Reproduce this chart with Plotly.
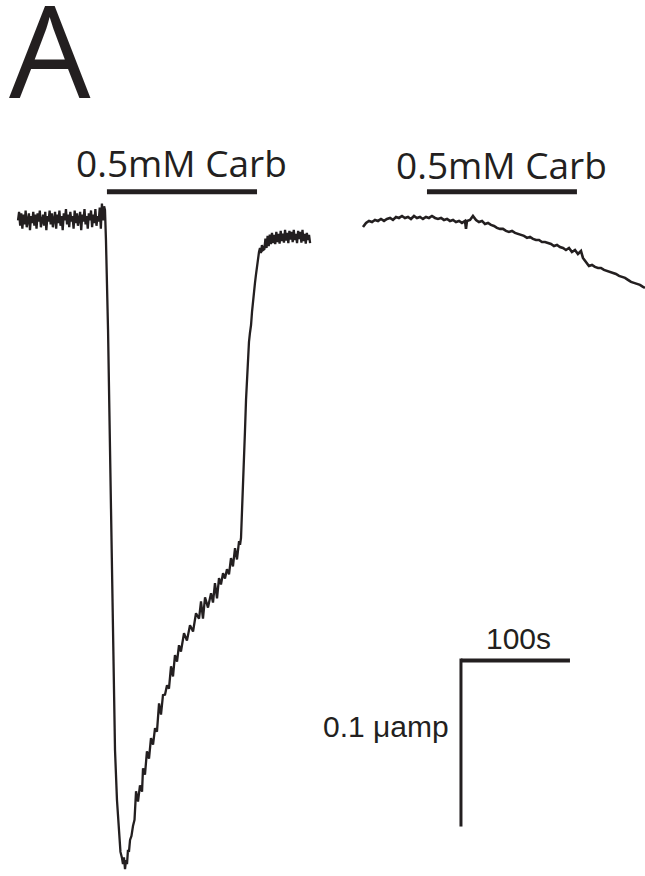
import plotly.graph_objects as go

# ---------------- data (time in s, current in nA) ----------------
# Left recording: baseline, carbachol-evoked inward current, recovery
left_t = [0, 1, 2, 3, 4, 5, 6, 7, 8, 9,
          10, 11, 12, 13, 14, 15, 16, 17, 18, 19,
          20, 21, 22, 23, 24, 25, 26, 27, 28, 29,
          30, 31, 32, 33, 34, 35, 36, 37, 38, 39,
          40, 41, 42, 43, 44, 45, 46, 47, 48, 49,
          50, 51, 52, 53, 54, 55, 56, 57, 58, 59,
          60, 61, 62, 63, 64, 65, 66, 67, 68, 69,
          70, 71, 72, 73, 74, 75, 76, 77, 78, 79,
          79.8, 80.7, 82.6, 84.4, 86.2, 87.6, 89.0, 90.8, 92.7, 94.0,
          95.4, 96.3, 97.2, 98.2, 99.1, 100.0, 100.9, 101.8, 102.8, 104.1,
          105.5, 106.9, 108.3, 110.1, 111.9, 113.8, 114.7, 116.5, 118.3, 120.2,
          122.0, 123.9, 125.7, 127.5, 129.4, 131.2, 133.0, 134.9, 136.7, 138.5,
          140.4, 142.2, 144.0, 145.9, 147.7, 149.5, 152.3, 155.0, 157.8, 160.6,
          163.3, 166.1, 167.9, 169.7, 171.6, 174.3, 177.1, 178.9, 180.7, 182.6,
          184.4, 186.2, 188.1, 189.9, 191.7, 193.6, 195.4, 197.2, 199.1, 200.9,
          202.8, 203.7,
          204.6, 205.5, 206.4, 207.3, 208.2, 209.2, 210.1, 211.0, 211.9, 212.8,
          213.8, 214.7, 215.6, 216.5, 217.4, 218.3, 219.3, 220.2, 221.1, 222.0,
          222.9, 223.8, 224.8,
          226, 227, 228, 229, 230, 231, 232, 233, 234, 235,
          236, 237, 238, 239, 240, 241, 242, 243, 244, 245,
          246, 247, 248, 249, 250, 251, 252, 253, 254, 255,
          256, 257, 258, 259, 260, 261, 262, 263, 264, 265,
          266, 267, 268]
left_i = [-3.2, 1.9, -6.5, 1.0, -8.2, 0.2, -5.7, 2.7, -7.4, -1.5,
          1.0, -9.1, -0.7, -4.9, 1.9, -6.5, 0.2, -8.2, 1.0, -4.0,
          2.7, -7.4, -2.3, 0.2, -6.5, 1.9, -9.1, -0.7, -4.0, 2.7,
          -5.7, 1.0, -7.4, -1.5, 1.9, -8.2, 0.2, -4.9, 2.7, -6.5,
          -0.7, -9.1, 1.0, -3.2, 3.5, -5.7, 0.2, -7.4, 1.9, -4.0,
          -0.7, -8.2, 2.7, -4.9, 1.0, -6.5, -1.5, 1.9, -9.1, 0.2,
          -4.0, 3.5, -5.7, -0.7, -8.2, 1.0, -3.2, 2.7, -7.4, 0.2,
          -4.9, 3.5, -6.5, -0.7, -4.0, 4.4, -8.2, 6.9, -3.2, 5.2,
          3.0, -15.0, -69.0, -141.6, -207.8, -262.0, -322.3, -352.4, -373.5, -383.7,
          -387.3, -391.0, -387.0, -394.0, -388.6, -391.0, -382.5, -383.7, -376.5, -374.1,
          -368.1, -364.4, -347.2, -353.4, -343.6, -347.4, -333.3, -337.1, -323.1, -327.5,
          -315.2, -319.1, -309.2, -311.2, -294.2, -301.0, -289.3, -288.9, -283.3, -285.3,
          -271.9, -278.0, -265.2, -269.1, -259.2, -263.0, -252.0, -256.4, -247.2, -250.9,
          -239.9, -243.2, -232.7, -243.2, -230.3, -236.5, -227.9, -233.5, -221.8, -231.0,
          -218.8, -222.6, -215.8, -219.0, -213.4, -216.5, -206.7, -211.7, -200.7, -207.5,
          -196.5, -198.7,
          -194.6, -180.7, -165.7, -151.8, -130.7, -111.4, -96.3, -82.5, -76.5, -71.1,
          -66.3, -58.4, -51.2, -46.4, -41.0, -36.1, -30.7, -24.7, -22.3, -19.9,
          -22.9, -18.1, -21.1,
          -20.5, -14.2, -19.9, -12.6, -18.7, -11.8, -17.5, -10.8, -16.9, -12.0,
          -17.5, -10.2, -16.3, -11.4, -17.2, -9.6, -15.7, -11.2, -16.6, -9.0,
          -15.4, -10.8, -16.9, -9.6, -14.8, -10.2, -16.3, -9.0, -15.1, -11.4,
          -16.9, -9.6, -14.5, -10.2, -16.6, -9.0, -15.7, -11.4, -17.2, -10.8,
          -15.1, -12.0, -16.9]

# Right recording: second carbachol application, no evoked response
right_t = [316.5, 319.3, 322.0, 324.8, 327.5, 330.3, 333.0, 335.8, 338.5, 341.3,
           344.0, 346.8, 349.5, 352.3, 355.0, 357.8, 360.5, 363.3, 366.0, 368.8,
           371.5, 374.3, 377.0, 379.8, 382.6, 385.3, 388.1, 390.8, 393.6, 396.3,
           399.1, 401.8, 404.6, 407.3, 410.1, 411.0, 411.9, 414.7, 417.4, 420.2,
           422.9, 425.7, 428.4, 431.2, 433.9, 436.7, 439.4, 442.2, 444.9, 447.7,
           450.4, 453.2, 456.0, 458.7, 461.5, 464.2, 467.0, 469.7, 472.5, 475.2,
           478.0, 480.7, 483.5, 486.2, 489.0, 491.7, 494.5, 497.2, 500.0, 502.7,
           505.5, 508.2, 511.0, 513.7, 516.5, 518.3, 521.1, 523.8, 526.6, 529.3,
           532.1, 534.8, 537.6, 540.4, 543.1, 545.9, 548.6, 551.4, 554.1, 556.9,
           559.6, 562.4, 565.1, 567.9, 570.6, 573.4, 575.2]
right_i = [-7.2, -4.8, -3.6, -4.2, -3.0, -3.6, -2.4, -3.6, -2.4, -1.8,
           -3.0, -1.2, -1.8, -0.6, -1.8, -1.2, -2.4, -0.6, -1.8, -1.2,
           -2.4, -1.2, -1.8, -0.6, -1.8, -2.4, -1.8, -3.0, -2.4, -3.6,
           -3.0, -4.2, -3.6, -4.8, -3.6, -8.4, -3.6, -3.0, -0.6, -3.0,
           -4.2, -3.6, -5.4, -4.8, -6.0, -6.6, -7.8, -8.4, -8.4, -9.6,
           -10.2, -9.6, -10.8, -11.4, -12.0, -12.6, -13.8, -13.2, -14.4, -15.1,
           -15.1, -16.3, -16.3, -16.9, -17.5, -18.7, -18.1, -19.3, -19.9, -21.1,
           -19.9, -22.3, -21.1, -23.5, -21.7, -25.9, -28.3, -30.7, -30.1, -31.3,
           -31.9, -31.9, -33.1, -33.7, -34.3, -34.9, -35.5, -36.7, -37.3, -37.9,
           -39.1, -40.3, -40.9, -41.5, -42.1, -43.3, -43.9]

# Drug application periods (s) and label
carb_label = "0.5mM Carb"
carb_periods = [(81.6, 219.3), (375.2, 512.8)]
carb_bar_level = 14.0  # nA, level of the application bars

# Scale bars
scale_t0, scale_i0 = 406.4, -268.4
scale_time = 100      # s
scale_current = 100   # nA (= 0.1 µA)
scale_time_label = "100s"
scale_current_label = "0.1 μamp"
panel_label = "A"

INK = "#231f20"
W, H = 645, 876

fig = go.Figure()
fig.add_trace(go.Scatter(x=left_t, y=left_i, mode="lines",
                         line=dict(color=INK, width=2.3), hoverinfo="skip"))
fig.add_trace(go.Scatter(x=right_t, y=right_i, mode="lines",
                         line=dict(color=INK, width=2.6), hoverinfo="skip"))

shapes = []
for (a, b) in carb_periods:
    shapes.append(dict(type="line", xref="x", yref="y", x0=a, x1=b,
                       y0=carb_bar_level, y1=carb_bar_level,
                       line=dict(color=INK, width=5)))
shapes.append(dict(type="line", xref="x", yref="y", x0=scale_t0, x1=scale_t0 + scale_time,
                   y0=scale_i0, y1=scale_i0, line=dict(color=INK, width=4)))
shapes.append(dict(type="line", xref="x", yref="y", x0=scale_t0, x1=scale_t0,
                   y0=scale_i0 + 1.2, y1=scale_i0 - scale_current, line=dict(color=INK, width=3)))

ann = []
for (a, b), py in zip(carb_periods, [162.5, 165.0]):
    ann.append(dict(x=(a + b) / 2, y=1 - py / H, xref="x", yref="paper",
                    text=carb_label, showarrow=False, xanchor="center", yanchor="middle",
                    font=dict(family="Open Sans", size=37, color=INK)))
ann.append(dict(x=scale_t0 + scale_time / 2 + 3, y=1 - 638.5 / H, xref="x", yref="paper",
                text=scale_time_label, showarrow=False, xanchor="center", yanchor="middle",
                font=dict(family="Liberation Sans", size=30, color=INK)))
ann.append(dict(x=scale_t0 - 9, y=1 - 726 / H, xref="x", yref="paper",
                text=scale_current_label, showarrow=False, xanchor="right", yanchor="middle",
                font=dict(family="Liberation Sans", size=30, color=INK)))
ann.append(dict(x=49.5 / W, y=1 - 48 / H, xref="paper", yref="paper",
                text=panel_label, showarrow=False, xanchor="center", yanchor="middle",
                font=dict(family="Open Sans", size=129, color=INK)))

fig.update_layout(
    width=W, height=H, margin=dict(l=0, r=0, t=0, b=0),
    paper_bgcolor="white", plot_bgcolor="white", showlegend=False,
    shapes=shapes, annotations=ann,
    xaxis=dict(range=[-16.51, 575.23], visible=False, fixedrange=True),
    yaxis=dict(range=[-398.2, 129.5], visible=False, fixedrange=True),
)
fig.write_html("out.html", config={"displayModeBar": False})
